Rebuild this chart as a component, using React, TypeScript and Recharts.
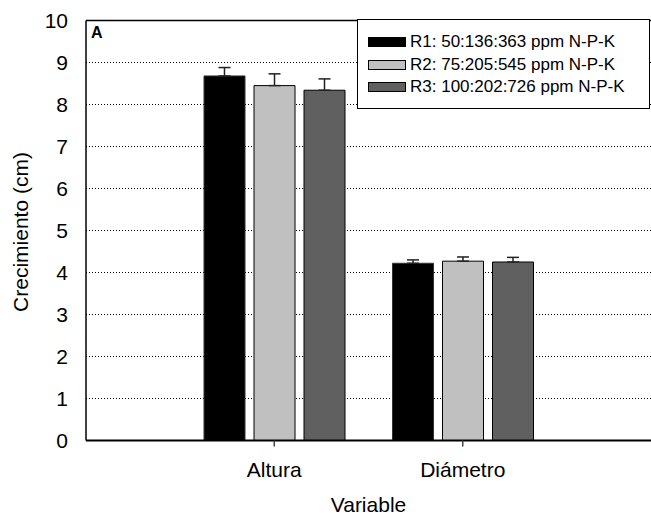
import React from 'react'
import { BarChart, Bar, XAxis, YAxis, CartesianGrid, ErrorBar, ReferenceLine, Label } from 'recharts'

const FONT = 'Arial, "Liberation Sans", sans-serif'

const categories = ['Altura', 'Diámetro']
const seriesNames = ['R1: 50:136:363 ppm N-P-K', 'R2: 75:205:545 ppm N-P-K', 'R3: 100:202:726 ppm N-P-K']
const seriesColors = ['#000000', '#c0c0c0', '#606060']

const r1 = [8.68, 4.22]
const r2 = [8.45, 4.27]
const r3 = [8.34, 4.25]
const r1Err = [0.2, 0.08]
const r2Err = [0.28, 0.1]
const r3Err = [0.27, 0.11]

const yTicks = [0, 1, 2, 3, 4, 5, 6, 7, 8, 9, 10]

const data = categories.map((name, i) => ({
  name,
  r1: r1[i],
  r2: r2[i],
  r3: r3[i],
  r1e: [0, r1Err[i]],
  r2e: [0, r2Err[i]],
  r3e: [0, r3Err[i]],
}))

// legend drawn as a plain box over the plot, like the original figure
const LegendBox = () => (
  <div
    style={{
      position: 'absolute',
      left: 357,
      top: 19,
      border: '1px solid #000',
      background: '#fff',
      width: 291,
      height: 77,
      paddingTop: 11,
      fontFamily: FONT,
      fontSize: 17,
      color: '#000',
    }}
  >
    {seriesNames.map((n, i) => (
      <div key={n} style={{ display: 'flex', alignItems: 'center', height: 22.5, paddingLeft: 10 }}>
        <span
          style={{
            display: 'inline-block',
            width: 36,
            height: 8,
            background: seriesColors[i],
            border: '1px solid #000',
            marginRight: 4,
          }}
        />
        <span style={{ whiteSpace: 'nowrap' }}>{n}</span>
      </div>
    ))}
  </div>
)

export default function App() {
  return (
    <div style={{ position: 'absolute', left: 0, top: 0, width: 651, height: 518, background: '#fff' }}>
      <BarChart
        width={651}
        height={518}
        data={data}
        margin={{ top: 20.5, right: 0, left: 26, bottom: 17.5 }}
        barGap={9}
        barSize={41}
      >
        <CartesianGrid horizontal vertical={false} stroke="#000" strokeDasharray="1 2" />
        <XAxis
          dataKey="name"
          height={60}
          padding={{ left: 94, right: 94 }}
          axisLine={{ stroke: '#000', strokeWidth: 2 }}
          tickLine={{ stroke: '#444', strokeWidth: 1.5 }}
          tickSize={6}
          tickMargin={16}
          tick={{ fill: '#000', fontSize: 21, fontFamily: FONT }}
        >
          <Label value="Variable" position="bottom" offset={-3} style={{ fill: '#000', fontSize: 21, fontFamily: FONT }} />
        </XAxis>
        <YAxis
          width={60}
          domain={[0, 10]}
          ticks={yTicks}
          interval={0}
          axisLine={{ stroke: '#000', strokeWidth: 1.5 }}
          tickLine={false}
          tickSize={0}
          tickMargin={18}
          tick={{ fill: '#000', fontSize: 21, fontFamily: FONT }}
        >
          <Label
            content={() => (
              <text
                x={28}
                y={232}
                transform="rotate(-90 28 232)"
                textAnchor="middle"
                fill="#000"
                fontSize={21}
                fontFamily={FONT}
              >
                Crecimiento (cm)
              </text>
            )}
          />
        </YAxis>
        <ReferenceLine
          y={10}
          stroke="#000"
          strokeWidth={1.5}
          label={() => (
            <text x={91} y={38} fill="#000" fontSize={16} fontWeight="bold" fontFamily={FONT}>
              A
            </text>
          )}
        />
        <Bar dataKey="r1" name={seriesNames[0]} fill={seriesColors[0]} stroke="#333" strokeWidth={1} isAnimationActive={false}>
          <ErrorBar dataKey="r1e" direction="y" width={6} stroke="#222" strokeWidth={1.5} />
        </Bar>
        <Bar dataKey="r2" name={seriesNames[1]} fill={seriesColors[1]} stroke="#000" strokeWidth={1} isAnimationActive={false}>
          <ErrorBar dataKey="r2e" direction="y" width={6} stroke="#222" strokeWidth={1.5} />
        </Bar>
        <Bar dataKey="r3" name={seriesNames[2]} fill={seriesColors[2]} stroke="#000" strokeWidth={1} isAnimationActive={false}>
          <ErrorBar dataKey="r3e" direction="y" width={6} stroke="#222" strokeWidth={1.5} />
        </Bar>
      </BarChart>
      <LegendBox />
    </div>
  )
}
